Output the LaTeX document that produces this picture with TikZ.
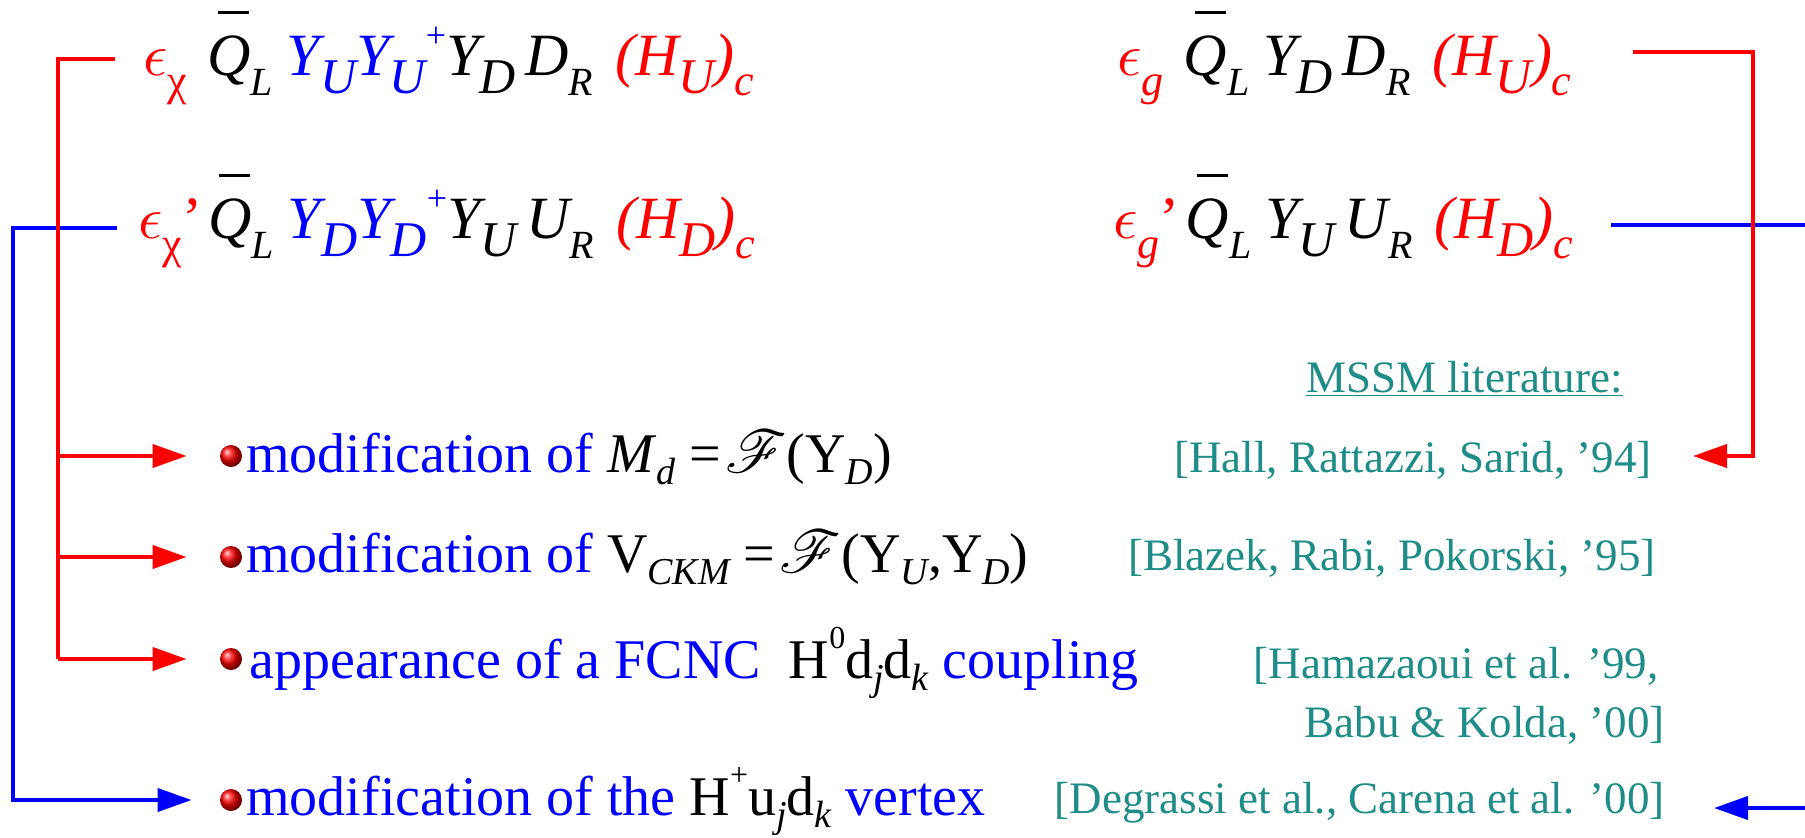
\documentclass[tikz,border=0pt]{standalone}
\usepackage{fontspec}
\usepackage{mathrsfs}
\setmainfont{Liberation Serif}
\usetikzlibrary{arrows.meta,positioning,calc}
\definecolor{citeteal}{HTML}{1E8C88}

% pieces of the operators
\newcommand{\eps}{\hbox{\fontsize{10}{12}\selectfont\scalebox{3}{$\epsilon$}}}
\newcommand{\qbar}{\rlap{\hspace{5.5pt}\rule[30.5pt]{15.5pt}{1.5pt}}Q}
\newcommand{\bsub}[1]{\raisebox{-9pt}{\fontsize{25}{25}\selectfont #1}}
\newcommand{\lsub}[1]{\raisebox{-10pt}{\fontsize{20}{20}\selectfont #1}}
\newcommand{\csub}[1]{\raisebox{-10pt}{\fontsize{22}{22}\selectfont #1}}
\newcommand{\psup}{\raisebox{14pt}{\fontsize{18}{18}\selectfont\upshape +}}
\newcommand{\isub}[1]{\raisebox{-6pt}{\fontsize{19}{19}\selectfont\itshape #1}}
\newcommand{\isup}[1]{\raisebox{15pt}{\fontsize{16}{16}\selectfont #1}}
\newcommand{\scrF}{\hbox{\fontsize{10}{12}\selectfont\scalebox{3}{$\mathscr{F}$}}}

\begin{document}
\begin{tikzpicture}[x=0.5pt,y=-0.5pt,
  eqtext/.style={inner sep=0pt,anchor=base west,font=\fontsize{30}{36}\selectfont\itshape},
  itemtext/.style={inner sep=0pt,anchor=base west,text=blue,font=\fontsize{28}{34}\selectfont},
  citetext/.style={inner sep=0pt,anchor=base east,text=citeteal,font=\fontsize{22.5}{27}\selectfont},
  ball/.style={circle,inner sep=0pt,minimum size=11pt,ball color=red},
  link/.style={line width=2pt},
  tip/.style={-{Triangle[length=17pt,width=11.5pt]}}]
\useasboundingbox (0,0) rectangle (1805,837);
\clip (0,0) rectangle (1805,837);

% operators
\node[eqtext] (eqA) at (143,75) {\textcolor{red}{\eps\csub{\upshape χ}}\hspace{10pt}\qbar\lsub{L}\hspace{7pt}\textcolor{blue}{Y\bsub{U}Y\bsub{U}\psup}Y\bsub{D}\hspace{5pt}D\lsub{R}\hspace{11pt}\textcolor{red}{(H\bsub{U})\csub{c}}};
\node[eqtext] (eqB) at (138,238) {\textcolor{red}{\eps\csub{\upshape χ}\upshape ’}\hspace{3pt}\qbar\lsub{L}\hspace{7pt}\textcolor{blue}{Y\bsub{D}Y\bsub{D}\psup}Y\bsub{U}\hspace{5pt}U\lsub{R}\hspace{11pt}\textcolor{red}{(H\bsub{D})\csub{c}}};
\node[eqtext] (eqC) at (1117,75) {\textcolor{red}{\eps\csub{g}}\hspace{10pt}\qbar\lsub{L}\hspace{7pt}Y\bsub{D}\hspace{5pt}D\lsub{R}\hspace{11pt}\textcolor{red}{(H\bsub{U})\csub{c}}};
\node[eqtext] (eqD) at (1113,238) {\textcolor{red}{\eps\csub{g}\upshape ’}\hspace{3pt}\qbar\lsub{L}\hspace{7pt}Y\bsub{U}\hspace{5pt}U\lsub{R}\hspace{11pt}\textcolor{red}{(H\bsub{D})\csub{c}}};

% consequences
\node[ball] (bulA) at (231,456) {};
\node[ball] (bulB) at (231,557) {};
\node[ball] (bulC) at (231,659) {};
\node[ball] (bulD) at (231,800) {};
\node[itemtext] (itemA) at (246,472) {modification of \textcolor{black}{\textit{M}\isub{d} =\hspace{2pt}\scrF(Y\isub{D})}};
\node[itemtext] (itemB) at (246,572) {modification of \textcolor{black}{V\isub{CKM} =\hspace{2pt}\scrF(Y\isub{U},Y\isub{D})}};
\node[itemtext] (itemC) at (249,678) {appearance of a FCNC \ \textcolor{black}{H\isup{0}d\isub{j}d\isub{k}} coupling};
\node[itemtext] (itemD) at (246,815) {modification of the \textcolor{black}{H\isup{+}u\isub{j}d\isub{k}} vertex};

% literature
\node[citetext] (lit) at (1623,392) {\underline{MSSM literature:}};
\node[citetext] (citeA) at (1652,472) {[Hall, Rattazzi, Sarid, ’94]};
\node[citetext] (citeB) at (1656,570) {[Blazek, Rabi, Pokorski, ’95]};
\node[citetext] (citeC) at (1659,678) {[Hamazaoui et al. ’99,};
\node[citetext] (citeCb) at (1665,737) {Babu \& Kolda, ’00]};
\node[citetext] (citeD) at (1665,813) {[Degrassi et al., Carena et al. ’00]};

% connectors
\coordinate (redL) at (58,59);
\coordinate (bluL) at (13,228);
\coordinate (redR) at (1753,52);
\coordinate (bluR) at (1840,225);
\draw[link,blue,tip,shorten <=10.5pt,shorten >=14pt] (eqB.west |- bluL) -- (bluL) |- (bulD.west);
\draw[link,blue,tip,shorten <=18.5pt,shorten >=24.5pt] (eqD.east |- bluR) -- (bluR) |- ($(citeD.east |- bulD)+(0,8)$);
\draw[link,red,shorten <=14pt] (eqA.west |- redL) -- (redL) -- (redL |- bulC);
\foreach \b in {bulA,bulB,bulC}
  \draw[link,red,tip,shorten >=16.5pt] (redL |- \b) -- (\b.west);
\draw[link,red,tip,shorten <=30.5pt,shorten >=20.5pt] (eqC.east |- redR) -- (redR) |- (citeA.east |- bulA);
\end{tikzpicture}
\end{document}
